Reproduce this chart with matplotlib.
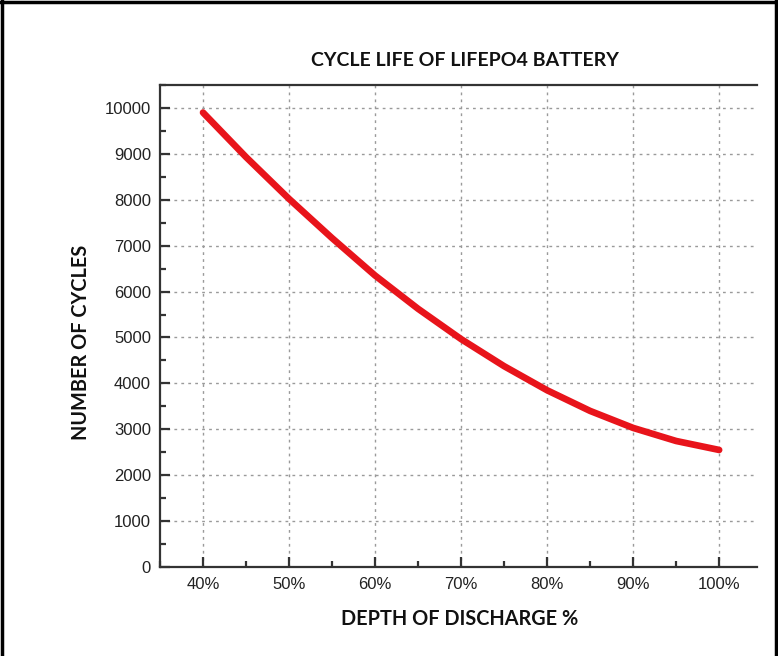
import matplotlib
matplotlib.use("Agg")
import matplotlib.pyplot as plt
from matplotlib.lines import Line2D
from matplotlib.ticker import MultipleLocator, FuncFormatter

# Data (depth of discharge %, cycles)
dod = [40, 45, 50, 55, 60, 65, 70, 75, 80, 85, 90, 95, 100]
cycles = [9900, 8930, 8020, 7165, 6350, 5625, 4965, 4375, 3850, 3400, 3030, 2745, 2550]
x_ticks = [40, 50, 60, 70, 80, 90, 100]
y_ticks = [0, 1000, 2000, 3000, 4000, 5000, 6000, 7000, 8000, 9000, 10000]

title = "CYCLE LIFE OF LIFEPO4 BATTERY"
xlabel = "DEPTH OF DISCHARGE %"
ylabel = "NUMBER OF CYCLES"

W, H = 778, 656
fig = plt.figure(figsize=(W / 100, H / 100), dpi=100)
fig.patch.set_facecolor("white")

L, R, T, B = 160, 757, 85, 567
ax = fig.add_axes([L / W, 1 - B / H, (R - L) / W, (B - T) / H])

ax.plot(dod, cycles, color="#e8141b", lw=4.8, solid_capstyle="round",
        solid_joinstyle="round", zorder=3)

ax.set_xlim(35, 104.4)
ax.set_ylim(0, 10500)
ax.set_xticks(x_ticks)
ax.set_yticks(y_ticks)
ax.xaxis.set_minor_locator(MultipleLocator(5))
ax.yaxis.set_minor_locator(MultipleLocator(500))
ax.xaxis.set_major_formatter(FuncFormatter(lambda v, p: f"{int(v)}%"))

ax.grid(True, which="major", color="#9a9a9a", lw=1.0, linestyle=(0, (2, 3)))
ax.set_axisbelow(True)

spine_c = "#333333"
for s in ["left", "top", "bottom"]:
    ax.spines[s].set_color(spine_c)
    ax.spines[s].set_linewidth(1.6)
ax.spines["right"].set_visible(False)

ax.tick_params(axis="both", which="major", direction="in", length=7.5, width=1.6,
               color=spine_c, labelsize=12, labelcolor="#222222")
ax.tick_params(axis="both", which="minor", direction="in", length=4.5, width=1.6,
               color=spine_c)
ax.tick_params(axis="y", which="both", left=True, right=False, pad=6.5)
ax.tick_params(axis="x", which="both", bottom=True, top=False, pad=7.5)
for lab in ax.get_xticklabels() + ax.get_yticklabels():
    lab.set_family("Liberation Sans")

fig.text(465 / W, 1 - 60 / H, title, ha="center", va="center",
         fontsize=14, fontweight="bold", family="Lato", color="#111111")
fig.text(460 / W, 1 - 619 / H, xlabel, ha="center", va="center",
         fontsize=14.3, fontweight="bold", family="Lato", color="#111111")
fig.text(81 / W, 1 - 342 / H, ylabel, ha="center", va="center", rotation=90,
         fontsize=14.3, fontweight="bold", family="Lato", color="#111111")

# black frame (left, top, right)
fig.add_artist(Line2D([1.5 / W, 1.5 / W], [0, 1], color="black", lw=2.5,
                      transform=fig.transFigure))
fig.add_artist(Line2D([0, 1], [1 - 1.5 / H, 1 - 1.5 / H], color="black", lw=2.5,
                      transform=fig.transFigure))
fig.add_artist(Line2D([775.5 / W, 775.5 / W], [0, 1], color="black", lw=2.5,
                      transform=fig.transFigure))

fig.savefig("out.png", dpi=100, facecolor="white")
